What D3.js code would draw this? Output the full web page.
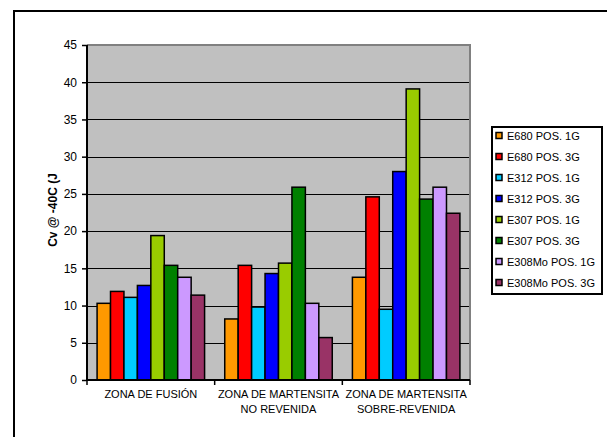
<!DOCTYPE html>
<html>
<head>
<meta charset="utf-8">
<script src="https://cdn.jsdelivr.net/npm/d3@7"></script>
<style>
  body { margin: 0; background: #fff; }
  svg { display: block; font-family: "Liberation Sans", Arial, sans-serif; }
</style>
</head>
<body>
<svg id="chart" width="607" height="437"></svg>
<script>
// zones on the x axis (two-line labels)
const zones = ["ZONA DE FUSIÓN", "ZONA DE MARTENSITA\nNO REVENIDA", "ZONA DE MARTENSITA\nSOBRE-REVENIDA"];
const seriesNames = ["E680 POS. 1G", "E680 POS. 3G", "E312 POS. 1G", "E312 POS. 3G",
                     "E307 POS. 1G", "E307 POS. 3G", "E308Mo POS. 1G", "E308Mo POS. 3G"];
const seriesColors = ["#ff9900", "#ff0000", "#00ccff", "#0000ff", "#99cc00", "#008000", "#cc99ff", "#993366"];

// one array per series, values per zone
const e680_1g = [10.3, 8.2, 13.8];
const e680_3g = [11.9, 15.4, 24.6];
const e312_1g = [11.1, 9.8, 9.5];
const e312_3g = [12.7, 14.3, 28.0];
const e307_1g = [19.4, 15.7, 39.1];
const e307_3g = [15.4, 25.9, 24.3];
const e308_1g = [13.8, 10.3, 25.9];
const e308_3g = [11.4, 5.7, 22.4];
const values = [e680_1g, e680_3g, e312_1g, e312_3g, e307_1g, e307_3g, e308_1g, e308_3g];

const yTicks = [0, 5, 10, 15, 20, 25, 30, 35, 40, 45];

const svg = d3.select("#chart");
const plotL = 87, plotR = 470, plotT = 45, plotB = 380;

// outer chart border (runs off the page on right/bottom)
svg.append("rect").attr("x", 14).attr("y", 11).attr("width", 620).attr("height", 440)
  .attr("fill", "none").attr("stroke", "#000").attr("stroke-width", 2);

const x0 = d3.scaleBand().domain(d3.range(zones.length)).range([plotL, plotR]);
const bw = x0.bandwidth() / 9.5;
const y = d3.scaleLinear().domain([0, 45]).range([plotB, plotT]);

// plot area
svg.append("rect").attr("x", plotL).attr("y", plotT).attr("width", plotR - plotL).attr("height", plotB - plotT)
  .attr("fill", "#c0c0c0");
svg.append("path").attr("d", `M${plotL},${plotT}H${plotR}V${plotB}`)
  .attr("fill", "none").attr("stroke", "#808080").attr("stroke-width", 2);

// gridlines
svg.append("g").selectAll("line").data(yTicks.filter(d => d > 0 && d < 45)).enter().append("line")
  .attr("x1", plotL).attr("x2", plotR - 1)
  .attr("y1", d => Math.round(y(d)) + 0.5).attr("y2", d => Math.round(y(d)) + 0.5)
  .attr("stroke", "#000").attr("stroke-width", 1);

// bars
const groups = svg.append("g").selectAll("g").data(values).enter().append("g")
  .attr("fill", (d, i) => seriesColors[i]);
groups.selectAll("rect").data((d, i) => d.map((v, z) => ({ v, z, i }))).enter().append("rect")
  .attr("x", d => x0(d.z) + bw * 0.75 + d.i * bw)
  .attr("y", d => y(d.v))
  .attr("width", bw)
  .attr("height", d => y(0) - y(d.v))
  .attr("stroke", "#000").attr("stroke-width", 1.5);

// y axis
const yAxis = svg.append("g").attr("transform", `translate(${plotL},0)`)
  .call(d3.axisLeft(y).tickValues(yTicks).tickSize(5).tickPadding(5));
yAxis.select(".domain").attr("stroke-width", 2).attr("d", `M0,${plotT}V${plotB}`);
yAxis.selectAll(".tick line").attr("stroke-width", 1.5);
yAxis.selectAll("text").attr("font-size", 12).attr("fill", "#000")
  .attr("font-family", "Liberation Sans, Arial, sans-serif");

// x axis line and category separator ticks
svg.append("line").attr("x1", plotL - 1).attr("x2", plotR).attr("y1", plotB).attr("y2", plotB)
  .attr("stroke", "#000").attr("stroke-width", 2);
svg.append("g").selectAll("line").data(d3.range(zones.length + 1)).enter().append("line")
  .attr("x1", d => plotL + d * x0.step()).attr("x2", d => plotL + d * x0.step())
  .attr("y1", plotB).attr("y2", plotB + 5)
  .attr("stroke", "#000").attr("stroke-width", 1.5);

// x labels
const xl = svg.append("g").selectAll("text").data(zones).enter().append("text")
  .attr("x", (d, i) => x0(i) + x0.bandwidth() / 2)
  .attr("y", 398)
  .attr("text-anchor", "middle").attr("font-size", 11).attr("fill", "#000");
xl.selectAll("tspan").data(d => d.split("\n")).enter().append("tspan")
  .attr("x", function () { return this.parentNode.getAttribute("x"); })
  .attr("dy", (d, i) => i === 0 ? 0 : 15)
  .text(d => d);

// y axis title
svg.append("text").attr("transform", `translate(57,210) rotate(-90)`)
  .attr("text-anchor", "middle").attr("font-size", 12).attr("font-weight", "bold")
  .text("Cv @ -40C (J");

// legend
svg.append("rect").attr("x", 492).attr("y", 127).attr("width", 110).attr("height", 167)
  .attr("fill", "#fff").attr("stroke", "#000").attr("stroke-width", 2);
const leg = svg.append("g").selectAll("g").data(seriesNames).enter().append("g")
  .attr("transform", (d, i) => `translate(496,${136 + i * 21})`);
leg.append("rect").attr("x", 0).attr("y", -3.5).attr("width", 6).attr("height", 6)
  .attr("fill", (d, i) => seriesColors[i]).attr("stroke", "#000").attr("stroke-width", 1.5);
leg.append("text").attr("x", 11).attr("y", 4).attr("font-size", 11).attr("fill", "#000")
  .text(d => d);
</script>
</body>
</html>
